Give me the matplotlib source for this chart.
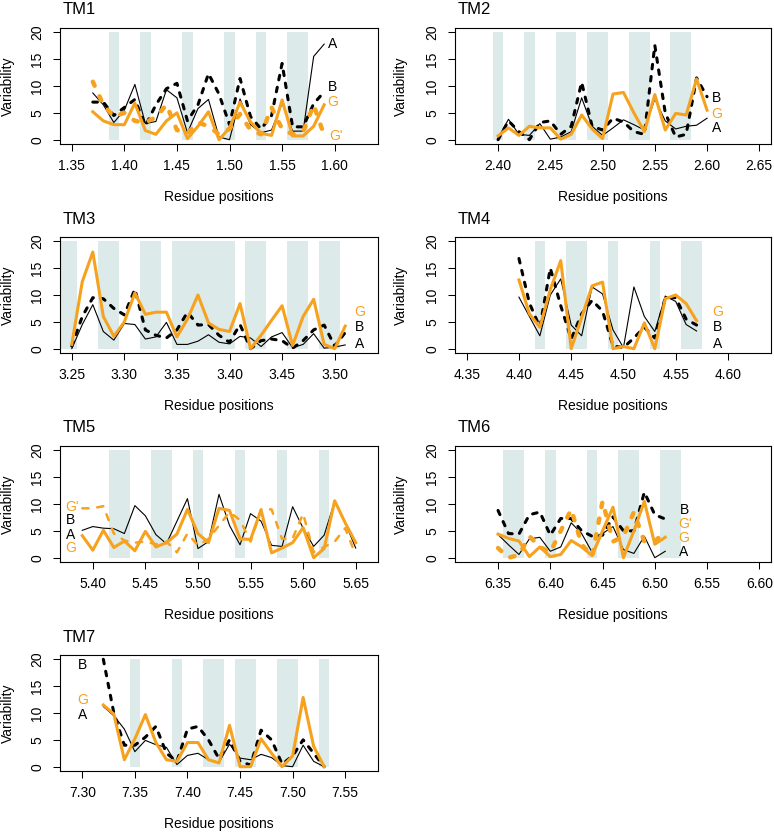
import numpy as np
import matplotlib
matplotlib.use("Agg")
import matplotlib.pyplot as plt

plt.rcParams['font.family'] = ['Liberation Sans', 'DejaVu Sans']

# ---------------- data ----------------
panels = ["TM1", "TM2", "TM3", "TM4", "TM5", "TM6", "TM7"]
x_start = {"TM1": 1.37, "TM2": 2.40, "TM3": 3.25, "TM4": 4.40, "TM5": 5.39, "TM6": 6.35, "TM7": 7.32}
x_lim = {"TM1": (1.35, 1.63), "TM2": (2.37, 2.65), "TM3": (3.25, 3.53), "TM4": (4.35, 4.63),
         "TM5": (5.38, 5.66), "TM6": (6.32, 6.60), "TM7": (7.29, 7.57)}
x_ticks = {"TM1": [1.35, 1.40, 1.45, 1.50, 1.55, 1.60],
           "TM2": [2.40, 2.45, 2.50, 2.55, 2.60, 2.65],
           "TM3": [3.25, 3.30, 3.35, 3.40, 3.45, 3.50],
           "TM4": [4.35, 4.40, 4.45, 4.50, 4.55, 4.60],
           "TM5": [5.40, 5.45, 5.50, 5.55, 5.60, 5.65],
           "TM6": [6.35, 6.40, 6.45, 6.50, 6.55, 6.60],
           "TM7": [7.30, 7.35, 7.40, 7.45, 7.50, 7.55]}
y_ticks = [0, 5, 10, 15, 20]

# highlighted residues (shaded bands)
bands = {
    "TM1": [1.39, 1.42, 1.46, 1.50, 1.53, 1.56, 1.57],
    "TM2": [2.40, 2.43, 2.46, 2.47, 2.49, 2.50, 2.53, 2.54, 2.57, 2.58],
    "TM3": [3.24, 3.25, 3.28, 3.29, 3.32, 3.33, 3.35, 3.36, 3.37, 3.38, 3.39, 3.40,
            3.42, 3.43, 3.46, 3.47, 3.49, 3.50],
    "TM4": [4.42, 4.45, 4.46, 4.49, 4.53, 4.56, 4.57],
    "TM5": [5.42, 5.43, 5.46, 5.47, 5.50, 5.54, 5.58, 5.62],
    "TM6": [6.36, 6.37, 6.40, 6.44, 6.47, 6.48, 6.51, 6.52],
    "TM7": [7.35, 7.39, 7.42, 7.43, 7.45, 7.46, 7.49, 7.50, 7.53],
}

A = {
    "TM1": [8.7, 6.5, 3.2, 5.5, 10.3, 3.0, 3.4, 9.3, 7.8, 1.3, 5.8, 7.5, 0.5, 0.0, 7.6, 2.8, 1.3, 1.8, 6.8, 1.6, 1.6, 15.5, 17.8],
    "TM2": [0.3, 3.8, 1.0, 0.8, 3.0, 0.1, 0.5, 1.5, 7.8, 2.5, 0.8, 2.2, 3.7, 2.8, 1.8, 7.6, 3.5, 2.0, 2.5, 2.7, 4.0],
    "TM3": [0.0, 4.5, 8.2, 3.2, 1.6, 4.7, 4.5, 1.8, 2.2, 4.9, 0.8, 0.8, 1.4, 2.6, 1.2, 0.9, 2.3, 2.0, 0.4, 2.2, 3.0, 0.2, 0.8, 2.8, 0.1, 0.3, 0.7],
    "TM4": [9.6, 6.0, 2.4, 10.0, 13.0, 4.4, 2.4, 11.5, 10.2, 3.5, 0.2, 11.5, 6.0, 3.2, 9.8, 8.8, 4.5, 3.3],
    "TM5": [5.1, 5.8, 5.5, 5.4, 4.5, 9.7, 7.8, 4.3, 2.6, 6.8, 11.0, 1.7, 3.0, 11.8, 6.0, 2.4, 8.2, 6.8, 2.3, 2.1, 9.5, 5.5, 2.1, 4.2, 10.5, 6.5, 1.8],
    "TM6": [4.3, 2.4, 0.6, 3.5, 3.8, 1.2, 2.0, 6.5, 4.5, 1.0, 4.5, 5.8, 1.5, 0.8, 4.0, 0.0, 1.2],
    "TM7": [11.2, 9.5, 7.0, 2.8, 4.9, 4.1, 3.6, 0.4, 2.1, 2.5, 1.3, 0.8, 4.2, 1.6, 1.3, 2.3, 1.7, 0.2, 0.0, 4.0, 1.0, 0.0],
}
B = {
    "TM1": [7.0, 7.0, 4.5, 6.0, 7.5, 2.6, 6.5, 9.5, 10.5, 3.5, 6.5, 12.3, 8.5, 2.8, 11.4, 4.3, 2.0, 4.5, 14.2, 2.4, 2.4, 6.7, 8.9],
    "TM2": [0.0, 3.5, 1.5, 0.0, 3.2, 3.5, 1.0, 2.5, 10.7, 2.5, 1.8, 4.0, 3.3, 1.5, 1.0, 17.6, 5.0, 0.5, 1.0, 11.5, 8.0],
    "TM3": [0.5, 6.0, 9.5, 9.3, 7.5, 6.3, 11.1, 3.5, 2.5, 2.0, 3.5, 6.8, 4.4, 4.5, 2.5, 1.2, 4.5, 0.0, 1.5, 1.8, 1.5, 0.1, 1.5, 3.5, 4.4, 0.5, 3.0],
    "TM4": [16.8, 8.5, 4.0, 15.0, 8.0, 1.8, 6.5, 9.0, 7.0, 0.5, 0.2, 2.0, 4.0, 2.0, 9.5, 9.5, 5.5, 4.4],
    "TM5": None,
    "TM6": [8.8, 4.5, 4.4, 8.0, 8.5, 4.2, 7.3, 7.3, 5.0, 4.0, 4.2, 7.6, 5.0, 5.0, 12.2, 8.0, 7.2],
    "TM7": [20.0, 10.0, 4.0, 4.0, 5.5, 7.5, 2.5, 1.0, 7.0, 7.5, 5.0, 1.5, 5.0, 1.0, 0.3, 6.8, 5.0, 0.5, 2.0, 5.0, 2.5, 0.0],
}
G = {
    "TM1": [5.2, 3.5, 2.8, 2.8, 6.8, 1.7, 1.0, 3.5, 5.0, 0.2, 2.5, 5.2, 0.0, 2.2, 7.0, 3.3, 1.2, 0.8, 7.4, 0.7, 0.7, 2.5, 6.5],
    "TM2": [0.7, 2.2, 0.8, 2.5, 2.2, 2.2, 0.1, 1.0, 4.6, 2.0, 0.2, 8.5, 8.8, 5.0, 1.5, 8.4, 1.8, 4.9, 4.6, 11.3, 5.5],
    "TM3": [0.8, 12.5, 18.0, 6.0, 2.3, 5.0, 10.4, 6.4, 6.8, 6.8, 2.2, 5.5, 10.0, 4.8, 3.6, 3.2, 8.4, 0.0, 2.5, 5.3, 8.0, 0.6, 6.0, 9.2, 0.8, 0.0, 4.2],
    "TM4": [12.8, 6.5, 4.0, 11.0, 16.4, 0.0, 5.8, 11.7, 12.4, 0.0, 0.4, 0.0, 4.8, 0.0, 9.3, 10.0, 8.4, 5.2],
    "TM5": [4.1, 1.4, 5.1, 1.9, 3.1, 1.3, 4.9, 2.0, 2.8, 4.4, 9.0, 4.5, 2.8, 9.2, 8.8, 3.5, 3.4, 8.9, 0.9, 1.8, 2.8, 5.6, 0.0, 1.7, 10.6, 6.5, 2.8],
    "TM6": [4.4, 3.6, 3.1, 0.2, 2.0, 0.2, 0.6, 3.2, 2.0, 0.4, 5.0, 9.4, 0.0, 5.0, 10.5, 2.5, 3.8],
    "TM7": [11.5, 9.8, 1.3, 5.2, 9.7, 4.5, 1.3, 1.0, 4.5, 4.5, 1.3, 0.7, 7.7, 0.0, 0.0, 5.2, 2.5, 0.0, 2.0, 12.9, 3.8, 0.0],
}
Gp = {
    "TM1": [10.8, 6.5, 4.3, 5.0, 3.5, 3.2, 4.2, 6.5, 1.8, 1.2, 3.2, 2.5, 1.0, 2.0, 4.8, 1.8, 1.0, 6.0, 2.0, 1.0, 1.5, 6.5, 0.8],
    "TM5": [9.2, 9.2, 9.6, 4.5, 3.2, 2.8, 3.0, 2.5, 3.0, 1.0, 4.5, 2.3, 3.5, 6.0, 8.5, 7.0, 3.0, 9.0, 9.0, 3.5, 3.6, 8.2, 1.0, 2.0, 3.0, 5.5, 0.5],
    "TM6": [1.8, 0.0, 0.5, 4.0, 2.0, 1.0, 5.0, 9.0, 2.5, 0.2, 10.5, 3.0, 4.0, 8.5, 3.0, 3.0, 5.0],
}

# series name labels: (text, x, y, colour key)
labels = {
    "TM1": [("A", 1.598, 17.9, "k"), ("B", 1.598, 9.9, "k"), ("G", 1.598, 7.0, "o"), ("G'", 1.601, 0.75, "o")],
    "TM2": [("B", 2.609, 7.75, "k"), ("G", 2.609, 4.8, "o"), ("A", 2.609, 2.25, "k")],
    "TM3": [("G", 3.524, 6.9, "o"), ("B", 3.524, 4.1, "k"), ("A", 3.524, 0.8, "k")],
    "TM4": [("G", 4.59, 6.9, "o"), ("B", 4.59, 4.0, "k"), ("A", 4.59, 0.8, "k")],
    "TM5": [("G'", 5.380, 9.4, "o"), ("B", 5.379, 7.0, "k"), ("A", 5.379, 4.25, "k"), ("G", 5.379, 1.9, "o")],
    "TM6": [("B", 6.528, 8.9, "k"), ("G'", 6.529, 6.25, "o"), ("G", 6.528, 3.75, "o"), ("A", 6.528, 1.1, "k")],
    "TM7": [("B", 7.30, 19.0, "k"), ("G", 7.30, 12.5, "o"), ("A", 7.30, 9.7, "k")],
}

# ---------------- style ----------------
ORANGE = "#F6A21E"
BAND = "#DDEAEA"
colors = {"k": "black", "o": ORANGE}

W, H = 774, 834
fig = plt.figure(figsize=(W / 100, H / 100), dpi=100)

col_left = [60, 455]
col_w = [318, 316]
row_top = [28, 237, 446, 655]
ax_h = 116
ylab_x = [-0.142, -0.149]


def spans(resids):
    r = sorted(resids)
    out = []
    lo = prev = r[0]
    for v in r[1:]:
        if abs(v - prev - 0.01) < 1e-6:
            prev = v
        else:
            out.append((lo - 0.005, prev + 0.005))
            lo = prev = v
    out.append((lo - 0.005, prev + 0.005))
    return out


for i, name in enumerate(panels):
    r, c = divmod(i, 2)
    left, top, w = col_left[c], row_top[r], col_w[c]
    ax = fig.add_axes([left / W, 1 - (top + ax_h) / H, w / W, ax_h / H])

    n = len(A[name])
    x = np.round(x_start[name] + 0.01 * np.arange(n), 2)

    for lo, hi in spans(bands[name]):
        ax.fill_between([lo, hi], 0, 20, color=BAND, linewidth=0, zorder=0)

    ax.plot(x, A[name], color="black", lw=0.8, zorder=2)
    if B[name] is not None:
        ax.plot(x, B[name], color="black", lw=2.2, dashes=(1.5, 2.5),
                dash_capstyle="round", zorder=3)
    ax.plot(x, G[name], color=ORANGE, lw=2.2, zorder=4, solid_joinstyle="round")
    if name in Gp:
        if name == "TM5":
            ax.plot(x, Gp[name], color=ORANGE, lw=1.8, dashes=(2.5, 3.5),
                    dash_capstyle="round", zorder=4)
        else:
            ax.plot(x, Gp[name], color=ORANGE, lw=3.2, dashes=(1.0, 2.6),
                    dash_capstyle="round", zorder=4)

    for txt, lx, ly, ck in labels[name]:
        ax.text(lx, ly, txt, color=colors[ck], fontsize=10, ha="center", va="center", zorder=5)

    lo, hi = x_lim[name]
    ext = 0.04 * (hi - lo)
    ax.set_xlim(lo - ext, hi + ext)
    ax.set_ylim(-0.8, 20.8)
    ax.set_xticks(x_ticks[name])
    ax.set_xticklabels([f"{t:.2f}" for t in x_ticks[name]])
    ax.set_yticks(y_ticks)
    ax.set_yticklabels([str(t) for t in y_ticks])
    ax.tick_params(axis="both", direction="out", length=5, width=0.75, labelsize=10, pad=6)
    ax.tick_params(axis="y", labelrotation=90, pad=6.5)
    for lab in ax.get_yticklabels():
        lab.set_va("center")
    for sp in ax.spines.values():
        sp.set_linewidth(0.8)

    ax.set_xlabel("Residue positions", fontsize=10)
    ax.xaxis.set_label_coords(0.5, -0.40)
    ax.set_ylabel("Variability", fontsize=10)
    ax.yaxis.set_label_coords(ylab_x[c], 0.5)

    ax.text(3 / w, 1 + 13.5 / ax_h, name, transform=ax.transAxes, fontsize=12,
            ha="left", va="baseline")

fig.savefig("out.png", dpi=100)
